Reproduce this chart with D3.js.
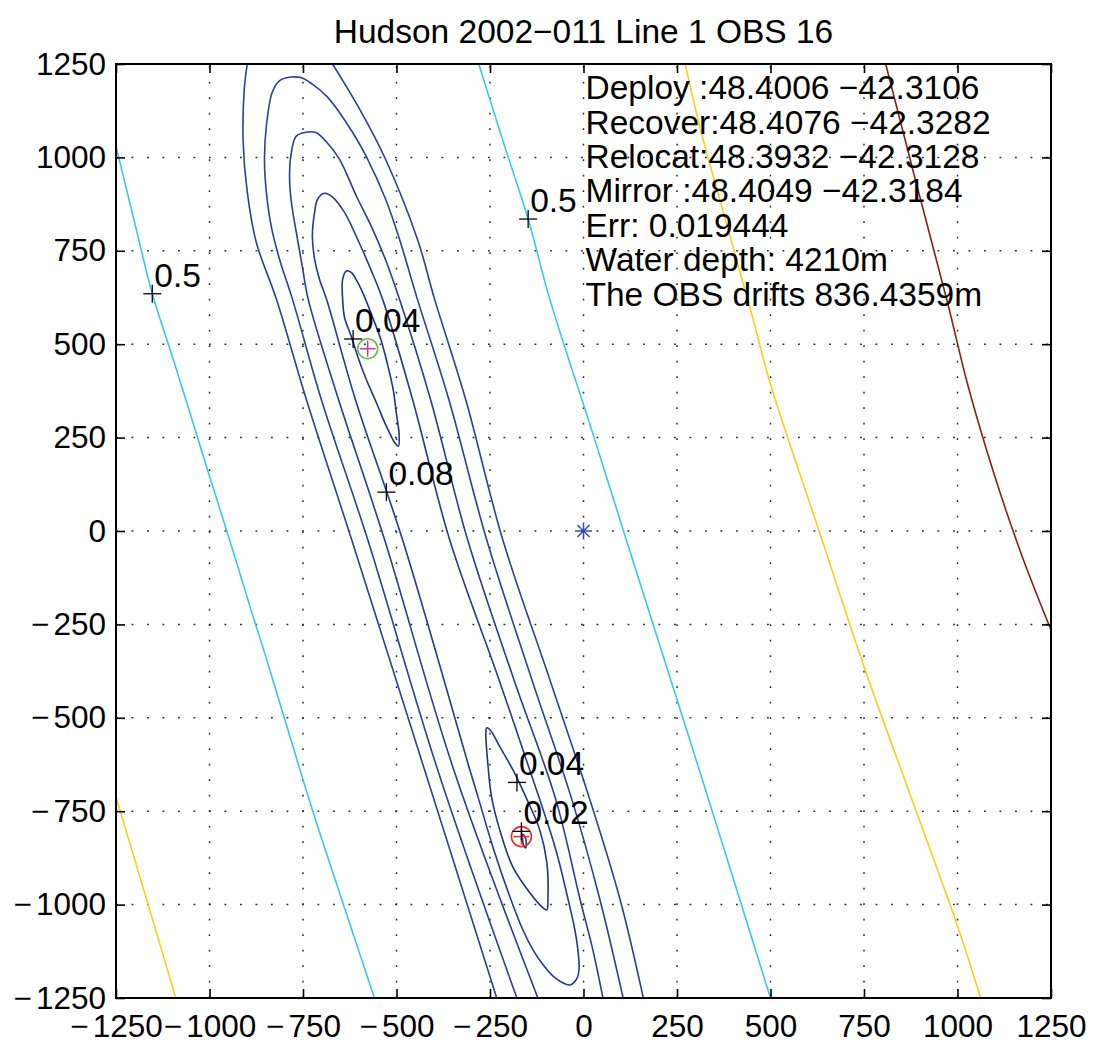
<!DOCTYPE html>
<html>
<head>
<meta charset="utf-8">
<script src="https://cdn.jsdelivr.net/npm/d3@7"></script>
<style>
  body { margin: 0; background: #fff; }
  svg { display: block; font-family: "Liberation Sans", Arial, Helvetica, sans-serif; }
</style>
</head>
<body>
<svg id="chart" width="1094" height="1045"></svg>
<script>
// ---- axis ticks ----
const xTicks = [-1250, -1000, -750, -500, -250, 0, 250, 500, 750, 1000, 1250];
const yTicks = [-1250, -1000, -750, -500, -250, 0, 250, 500, 750, 1000, 1250];

// ---- misfit contours (east, north in metres) ----
// outermost dark-blue level, open at top and bottom (two branches)
const blueOuterLeft  = [[-899,1250],[-907,1183],[-910,1041],[-899,907],[-875,773],[-821,620],[-741,352],[-620,-23],[-425,-639],[-232,-1250]];
const blueOuterRight = [[-671,1250],[-599,1130],[-532,1001],[-444,781],[-398,620],[-315,352],[-216,-23],[-90,-398],[17,-719],[98,-987],[160,-1250]];
// second level: closed at top, open at bottom
const blueSecond = [[-178,-1250],[-390,-639],[-577,-23],[-701,352],[-778,620],[-813,728],[-835,816],[-848,907],[-853,995],[-848,1084],[-832,1175],[-813,1205],[-781,1215],[-754,1213],[-725,1196],[-687,1164],[-653,1121],[-618,1068],[-580,1001],[-529,888],[-492,781],[-444,620],[-360,352],[-259,-23],[-138,-398],[-31,-719],[44,-987],[106,-1250]];
// third level: closed at top, open at bottom
const blueThird = [[-122,-1250],[-347,-639],[-532,-23],[-655,352],[-736,620],[-752,709],[-768,800],[-781,880],[-786,950],[-781,1014],[-768,1057],[-738,1068],[-714,1066],[-687,1041],[-653,996],[-607,896],[-564,808],[-527,720],[-492,620],[-409,352],[-310,-23],[-186,-398],[-74,-719],[-9,-987],[25,-1121],[52,-1250]];
// 0.08 level: closed loop
const blue008 = [[-692,904],[-711,888],[-719,853],[-725,789],[-719,728],[-706,674],[-687,620],[-610,352],[-484,-23],[-304,-639],[-280,-719],[-240,-853],[-194,-987],[-162,-1068],[-135,-1121],[-108,-1161],[-76,-1196],[-36,-1215],[-20,-1202],[-12,-1175],[-15,-1121],[-23,-1068],[-41,-987],[-74,-853],[-117,-719],[-226,-398],[-358,-23],[-457,352],[-537,620],[-569,701],[-604,781],[-639,853],[-671,894]];
// 0.04 level: upper and lower loops
const blue004Upper = [[-634,696],[-644,674],[-644,620],[-639,572],[-621,521],[-604,468],[-581,406],[-554,344],[-527,280],[-505,237],[-495,227],[-493,259],[-500,312],[-509,379],[-524,446],[-542,513],[-564,572],[-586,628],[-604,666],[-621,692]];
const blue004Lower = [[-259,-527],[-261,-545],[-256,-620],[-246,-711],[-224,-800],[-189,-899],[-143,-969],[-108,-1009],[-98,-1014],[-95,-979],[-98,-888],[-117,-800],[-151,-719],[-189,-639],[-224,-577],[-250,-532]];
// 0.02 level: tiny loop at the minimum
const blue002 = [[-163,-812],[-156,-820],[-153,-835],[-155,-848],[-160,-842],[-163,-826]];
// 0.5 level (cyan)
const cyanLeft  = [[-1250,1030],[-1200,825],[-1153,635],[-1110,500],[-1072,380],[-1004,160],[-935,-60],[-897,-185],[-850,-335],[-800,-500],[-725,-746],[-642,-1000],[-559,-1250]];
const cyanRight = [[-280,1250],[-214,1040],[-148,835],[-90,620],[22,270],[107,0],[202,-300],[312,-647],[405,-945],[500,-1250]];
// higher levels (yellow, dark red)
const yellowLeft  = [[-1250,-712],[-1170,-980],[-1090,-1250]];
const yellowRight = [[272,1250],[312,1078],[381,828],[451,576],[500,393],[630,0],[750,-363],[875,-710],[1000,-1057],[1062,-1250]];
const redRight    = [[808,1250],[890,930],[973,613],[1027,393],[1098,152],[1170,-60],[1250,-265]];

// ---- contour labels ----
const labelText = ["0.5", "0.5", "0.04", "0.08", "0.04", "0.02"];
const labelX    = [-1153, -148, -616, -527, -178, -166];
const labelY    = [635, 835, 514, 104, -673, -804];

// ---- station positions ----
const deployPos   = [0, 0];
const relocatePos = [-577, 488];
const mirrorPos   = [-166, -818];

// ---- annotation ----
const titleText = "Hudson 2002\u2212011 Line 1 OBS 16";
const infoLines = [
  "Deploy :48.4006 \u221242.3106",
  "Recover:48.4076 \u221242.3282",
  "Relocat:48.3932 \u221242.3128",
  "Mirror :48.4049 \u221242.3184",
  "Err: 0.019444",
  "Water depth: 4210m",
  "The OBS drifts 836.4359m"
];
const infoAnchor = [0, 1156];

// ---- drawing ----
const svg = d3.select("#chart");
const x = d3.scaleLinear().domain([-1250, 1250]).range([116, 1051]);
const y = d3.scaleLinear().domain([-1250, 1250]).range([998, 64]);
const [x0, x1] = x.range();
const [y0, y1] = y.range();

svg.append("defs").append("clipPath").attr("id", "plotClip")
  .append("rect").attr("x", x0).attr("y", y1).attr("width", x1 - x0).attr("height", y0 - y1);

// dotted grid
const grid = svg.append("g").attr("stroke", "#2a2a2a").attr("stroke-width", 1.5)
  .attr("stroke-dasharray", "1.8,13.7");
grid.selectAll("line.gx").data(xTicks.slice(1, -1)).join("line")
  .attr("x1", d => x(d)).attr("x2", d => x(d)).attr("y1", y0).attr("y2", y1);
grid.selectAll("line.gy").data(yTicks.slice(1, -1)).join("line")
  .attr("y1", d => y(d)).attr("y2", d => y(d)).attr("x1", x0).attr("x2", x1);

// contour lines
const openLine = d3.line().x(d => x(d[0])).y(d => y(d[1])).curve(d3.curveCatmullRom.alpha(0.5));
const closedLine = d3.line().x(d => x(d[0])).y(d => y(d[1])).curve(d3.curveCatmullRomClosed.alpha(0.5));

const contours = [
  { pts: blueOuterLeft,  closed: false, color: "#2e3f9b" },
  { pts: blueOuterRight, closed: false, color: "#2e3f9b" },
  { pts: blueSecond,     closed: false, color: "#2e3f9b" },
  { pts: blueThird,      closed: false, color: "#2b3b97" },
  { pts: blue008,        closed: true,  color: "#293894" },
  { pts: blue004Upper,   closed: true,  color: "#24328c" },
  { pts: blue004Lower,   closed: true,  color: "#24328c" },
  { pts: blue002,        closed: true,  color: "#202d86" },
  { pts: cyanLeft,       closed: false, color: "#3ac6f2" },
  { pts: cyanRight,      closed: false, color: "#3ac6f2" },
  { pts: yellowLeft,     closed: false, color: "#f4d21a" },
  { pts: yellowRight,    closed: false, color: "#f4d21a" },
  { pts: redRight,       closed: false, color: "#8c1d1d" }
];

const plot = svg.append("g").attr("clip-path", "url(#plotClip)");
plot.selectAll("path.contour").data(contours).join("path")
  .attr("class", "contour")
  .attr("fill", "none")
  .attr("stroke", d => d.color)
  .attr("stroke-width", 1.6)
  .attr("d", d => (d.closed ? closedLine : openLine)(d.pts));

// plus marker helper
function plus(g, cx, cy, r, color, w) {
  g.append("line").attr("x1", cx - r).attr("x2", cx + r).attr("y1", cy).attr("y2", cy)
    .attr("stroke", color).attr("stroke-width", w);
  g.append("line").attr("x1", cx).attr("x2", cx).attr("y1", cy - r).attr("y2", cy + r)
    .attr("stroke", color).attr("stroke-width", w);
}

// relocated and mirror positions
const marks = svg.append("g");
marks.append("circle").attr("cx", x(relocatePos[0])).attr("cy", y(relocatePos[1])).attr("r", 10)
  .attr("fill", "none").attr("stroke", "#6cbd45").attr("stroke-width", 1.6);
plus(marks, x(relocatePos[0]), y(relocatePos[1]), 8, "#c43c9c", 1.5);
marks.append("circle").attr("cx", x(mirrorPos[0])).attr("cy", y(mirrorPos[1])).attr("r", 10)
  .attr("fill", "none").attr("stroke", "#ef2b2b").attr("stroke-width", 1.6);
plus(marks, x(mirrorPos[0]), y(mirrorPos[1]), 8, "#ef2b2b", 1.5);

// deployment position (asterisk)
const ax = x(deployPos[0]), ay = y(deployPos[1]);
[0, 45, 90, 135].forEach(a => {
  const r = 8.5, t = a * Math.PI / 180;
  marks.append("line")
    .attr("x1", ax - r * Math.cos(t)).attr("y1", ay - r * Math.sin(t))
    .attr("x2", ax + r * Math.cos(t)).attr("y2", ay + r * Math.sin(t))
    .attr("stroke", "#3a4bad").attr("stroke-width", 1.5);
});

// contour labels
const labels = svg.append("g");
labelText.forEach((t, i) => {
  const px = x(labelX[i]), py = y(labelY[i]);
  plus(labels, px, py, 9, "#000", 1.3);
  labels.append("text").attr("x", px + 2).attr("y", py - 7)
    .attr("font-size", 33.5).attr("fill", "#000").text(t);
});

// axes box and ticks
const tickFont = 31.5;
function styleAxis(g) {
  g.select(".domain").remove();
  g.selectAll(".tick line").attr("stroke", "#000").attr("stroke-width", 1.6);
  g.selectAll(".tick text")
    .attr("font-size", tickFont).attr("fill", "#000")
    .attr("font-family", "\"Liberation Sans\", Arial, Helvetica, sans-serif")
    .each(function (d) {
      // wide minus sign followed by the magnitude
      const t = d3.select(this);
      if (t.text() === "") return;
      t.text(null);
      if (d < 0) {
        t.append("tspan").text("\u2212");
        t.append("tspan").attr("dx", 4).text(String(Math.abs(d)));
      } else {
        t.append("tspan").text(String(d));
      }
    });
}
svg.append("g").attr("transform", `translate(0,${y0})`)
  .call(d3.axisBottom(x).tickValues(xTicks).tickSize(-9).tickSizeOuter(0).tickPadding(16.5))
  .call(styleAxis);
svg.append("g").attr("transform", `translate(${x0},0)`)
  .call(d3.axisLeft(y).tickValues(yTicks).tickSize(-9).tickSizeOuter(0).tickPadding(10))
  .call(styleAxis);
svg.append("g").attr("transform", `translate(0,${y1})`)
  .call(d3.axisTop(x).tickValues(xTicks).tickSize(-9).tickSizeOuter(0).tickFormat(""))
  .call(styleAxis);
svg.append("g").attr("transform", `translate(${x1},0)`)
  .call(d3.axisRight(y).tickValues(yTicks).tickSize(-9).tickSizeOuter(0).tickFormat(""))
  .call(styleAxis);

svg.append("rect").attr("x", x0).attr("y", y1).attr("width", x1 - x0).attr("height", y0 - y1)
  .attr("fill", "none").attr("stroke", "#000").attr("stroke-width", 2);

// title
svg.append("text").attr("x", (x0 + x1) / 2).attr("y", 43)
  .attr("text-anchor", "middle").attr("font-size", 33.5).attr("fill", "#000")
  .text(titleText);

// station information
const info = svg.append("text").attr("font-size", 33.5).attr("fill", "#000");
infoLines.forEach((line, i) => {
  info.append("tspan")
    .attr("x", x(infoAnchor[0]) + 2)
    .attr("y", y(infoAnchor[1]) + i * 34.4)
    .text(line);
});
</script>
</body>
</html>
